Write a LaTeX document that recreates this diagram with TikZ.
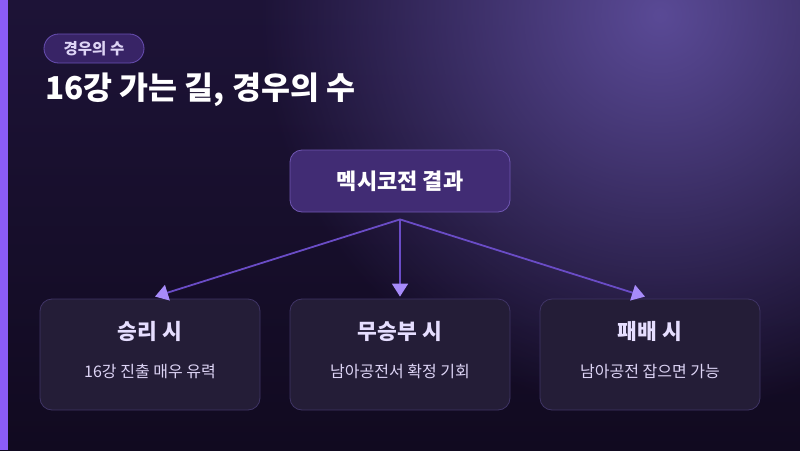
\documentclass[tikz,border=0pt]{standalone}
\usepackage{fontspec}
\setmainfont{Noto Sans CJK KR}
\usetikzlibrary{arrows.meta, positioning, calc, fadings}
\definecolor{bgtop}{HTML}{1D1337}
\definecolor{bgbottom}{HTML}{110A20}
\definecolor{glow}{HTML}{5A4A96}
\definecolor{accentbar}{HTML}{8B5CF6}
\definecolor{flowline}{HTML}{6A4CC6}
\definecolor{tipviolet}{HTML}{A78BFA}
\definecolor{resultfill}{HTML}{412C74}
\definecolor{resultborder}{HTML}{6F56B2}
\definecolor{cardfill}{HTML}{241D37}
\definecolor{cardborder}{HTML}{3F3465}
\definecolor{cardhead}{HTML}{E6DEFF}
\definecolor{cardtext}{HTML}{DDD4F5}
\definecolor{badgefill}{HTML}{382466}
\definecolor{badgeborder}{HTML}{6A50B5}

\tikzfading[name=glowfade, inner color=transparent!0, outer color=transparent!100]

\tikzset{
  badge/.style={draw=badgeborder, fill=badgefill, line width=0.8pt, rounded corners=14.5pt,
    minimum width=100pt, minimum height=29pt, text=cardtext, font=\fontsize{15.5}{18}\selectfont\bfseries},
  heading/.style={text=white, font=\fontsize{31.5}{36}\selectfont\bfseries, inner sep=0pt},
  result/.style={draw=resultborder, fill=resultfill, line width=0.8pt, rounded corners=12pt,
    minimum width=220pt, minimum height=62pt, text=white, font=\fontsize{22}{26}\selectfont\bfseries},
  card/.style={draw=cardborder, fill=cardfill, line width=0.8pt, rounded corners=12pt,
    minimum width=220pt, minimum height=111pt},
  cardtitle/.style={text=cardhead, font=\fontsize{21.5}{25}\selectfont\bfseries},
  cardsub/.style={text=cardtext, font=\fontsize{16}{19}\selectfont},
  flow/.style={draw=flowline, line width=1.8pt,
    -{Triangle[width=16pt, length=13pt, fill=tipviolet, color=tipviolet]}}
}

\begin{document}
\begin{tikzpicture}[x=1pt, y=-1pt]
  \useasboundingbox (0,0) rectangle (800,450);

  % ===== 배경 =====
  \shade[top color=bgtop, bottom color=bgbottom] (0,0) rectangle (800,450);
  \begin{scope}
    \clip (0,0) rectangle (800,450);
    \fill[glow, path fading=glowfade] (660,15) circle (400);
  \end{scope}
  \fill[accentbar] (0,0) rectangle (8,450);

  % ===== 제목 =====
  \node[badge] (tag) at (94,48.5) {경우의 수};
  \node[heading, anchor=base west] (title) at (45,99) {16강 가는 길, 경우의 수};

  % ===== 결과 노드 =====
  \node[result] (result) at (400,181) {멕시코전 결과};
  \coordinate (fork) at ([yshift=-7pt]result.south);

  % ===== 경우별 카드 =====
  \foreach \x/\name/\head/\sub in {150/win/승리 시/16강 진출 매우 유력,
      400/draw/무승부 시/남아공전서 확정 기회,
      650/lose/패배 시/남아공전 잡으면 가능} {
    \node[card] (\name) at (\x,354.5) {};
    \node[cardtitle] (\name-head) at ([yshift=-33pt]\name.north) {\head};
    \node[cardsub] (\name-sub) at ([yshift=-73pt]\name.north) {\sub};
  }

  % 화살표
  \draw[flow] (fork) -- ([xshift=5pt, yshift=2pt]win.north);
  \draw[flow] (fork) -- ([yshift=2pt]draw.north);
  \draw[flow] (fork) -- ([xshift=-5pt, yshift=2pt]lose.north);
\end{tikzpicture}
\end{document}
